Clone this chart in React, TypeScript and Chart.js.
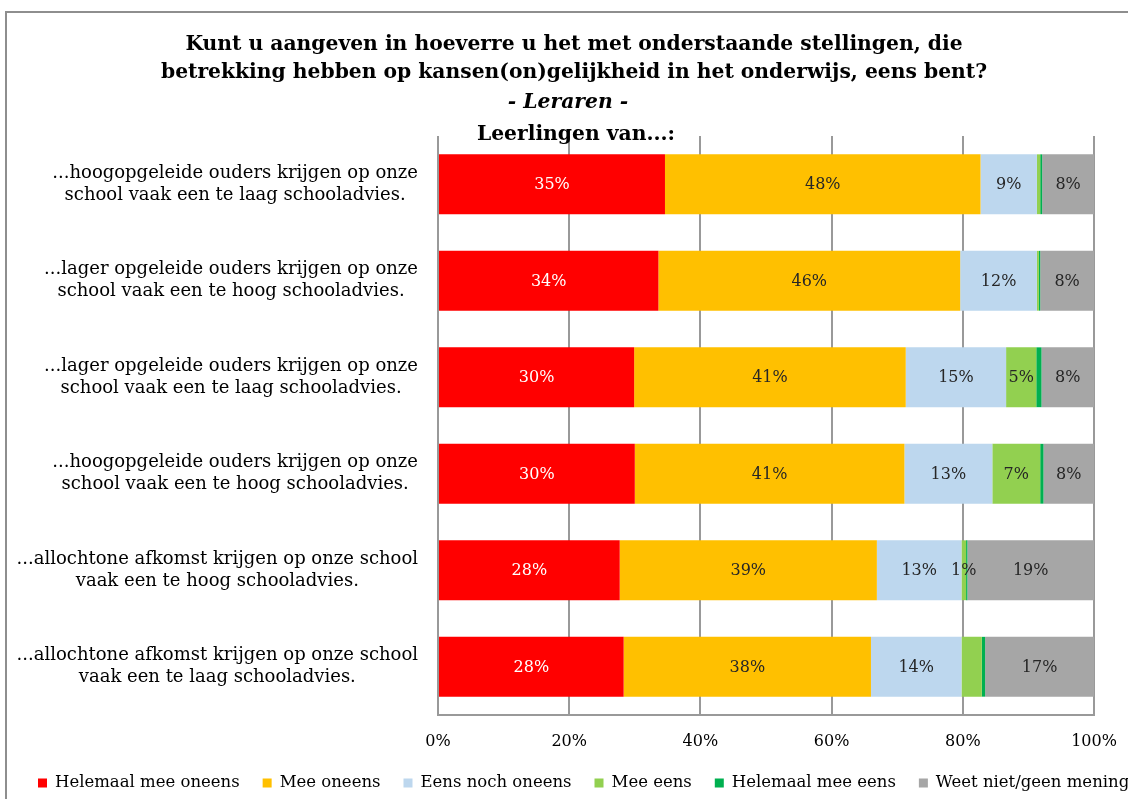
import React, { useEffect, useRef } from "react";
import { Chart, registerables } from "chart.js";
Chart.register(...registerables);

const titleLines = [
  "Kunt u aangeven in hoeverre u het met onderstaande stellingen, die",
  "betrekking hebben op kansen(on)gelijkheid in het onderwijs, eens bent?",
  "- Leraren -",
  "Leerlingen van...:",
];

const categories = [
  ["...hoogopgeleide ouders krijgen op onze", "school vaak een te laag schooladvies."],
  ["...lager opgeleide ouders krijgen op onze", "school vaak een te hoog schooladvies."],
  ["...lager opgeleide ouders krijgen op onze", "school vaak een te laag schooladvies."],
  ["...hoogopgeleide ouders krijgen op onze", "school vaak een te hoog schooladvies."],
  ["...allochtone afkomst krijgen op onze school", "vaak een te hoog schooladvies."],
  ["...allochtone afkomst krijgen op onze school", "vaak een te laag schooladvies."],
];

const seriesNames = [
  "Helemaal mee oneens",
  "Mee oneens",
  "Eens noch oneens",
  "Mee eens",
  "Helemaal mee eens",
  "Weet niet/geen mening",
];

const helemaalMeeOneens = [34.6, 33.6, 29.9, 30.0, 27.7, 28.3];
const meeOneens = [48.1, 46.0, 41.4, 41.1, 39.2, 37.7];
const eensNochOneens = [8.6, 11.7, 15.3, 13.4, 12.9, 13.8];
const meeEens = [0.5, 0.3, 4.6, 7.3, 0.7, 3.1];
const helemaalMeeEens = [0.3, 0.2, 0.8, 0.5, 0.2, 0.5];
const weetNiet = [7.9, 8.2, 8.0, 7.7, 19.3, 16.6];

const allShown = [true, true, true, true, true, true];
const meeEensLabelShown = [false, false, true, true, true, false];
const helemaalMeeEensLabelShown = [false, false, false, false, false, false];

const xTickLabels = ["0%", "20%", "40%", "60%", "80%", "100%"];

const seriesColors = ["#FF0000", "#FFC000", "#BDD7EE", "#92D050", "#00B050", "#A6A6A6"];
const labelColors = ["#FFFFFF", "#262626", "#262626", "#262626", "#262626", "#262626"];

const FONT = "'DejaVu Serif', serif";

const customPlugin = {
  id: "customDraw",
  beforeDraw(chart: any) {
    const ctx = chart.ctx;
    ctx.save();
    ctx.strokeStyle = "#8e8e8e";
    ctx.lineWidth = 2;
    ctx.strokeRect(6, 12, chart.width + 50, chart.height + 50);
    ctx.restore();
  },
  afterDatasetsDraw(chart: any) {
    const ctx = chart.ctx;
    ctx.save();
    ctx.font = `16px ${FONT}`;
    ctx.textAlign = "center";
    ctx.textBaseline = "middle";
    chart.data.datasets.forEach((ds: any, di: number) => {
      const meta = chart.getDatasetMeta(di);
      meta.data.forEach((bar: any, i: number) => {
        if (!ds.labelShown[i]) return;
        const v = ds.data[i];
        const x = (bar.x + bar.base) / 2;
        ctx.fillStyle = ds.labelColor;
        ctx.fillText(Math.round(v) + "%", x, bar.y + 1);
      });
    });
    ctx.restore();
  },
  afterDraw(chart: any) {
    const ctx = chart.ctx;
    ctx.save();
    // title
    ctx.fillStyle = "#000";
    ctx.textAlign = "center";
    ctx.textBaseline = "middle";
    const tys = [45, 73, 103, 135];
    const txs = [574, 574, 568, 576];
    titleLines.forEach((t, i) => {
      ctx.font = (i === 2 ? "italic bold " : "bold ") + `20.3px ${FONT}`;
      ctx.fillText(t, txs[i], tys[i]);
    });
    // category labels
    const yScale = chart.scales.y;
    ctx.font = `18px ${FONT}`;
    ctx.fillStyle = "#000";
    const rightEdge = 418;
    const lh = 22;
    categories.forEach((lines, i) => {
      const y = yScale.getPixelForValue(i);
      const w = Math.max(...lines.map((l) => ctx.measureText(l).width));
      const cx = rightEdge - w / 2;
      lines.forEach((l, j) => {
        ctx.fillText(l, cx, y + (j - (lines.length - 1) / 2) * lh);
      });
    });
    // legend
    ctx.font = `16.5px ${FONT}`;
    ctx.textAlign = "left";
    let x = 38;
    const ly = 783;
    chart.data.datasets.forEach((ds: any) => {
      ctx.fillStyle = ds.backgroundColor;
      ctx.fillRect(x, ly - 4.5, 9, 9);
      ctx.fillStyle = "#000";
      ctx.fillText(ds.label, x + 17, ly);
      x += 17 + ctx.measureText(ds.label).width + 23;
    });
    ctx.restore();
  },
};

export default function App() {
  const ref = useRef<HTMLCanvasElement>(null);
  useEffect(() => {
    if (!ref.current) return;
    const values = [helemaalMeeOneens, meeOneens, eensNochOneens, meeEens, helemaalMeeEens, weetNiet];
    const shown = [allShown, allShown, allShown, meeEensLabelShown, helemaalMeeEensLabelShown, allShown];
    const chart = new Chart(ref.current, {
      type: "bar",
      data: {
        labels: categories.map((c) => c.join(" ")),
        datasets: seriesNames.map((name, i) => ({
          label: name,
          data: values[i],
          backgroundColor: seriesColors[i],
          borderWidth: 0,
          barPercentage: 0.62,
          categoryPercentage: 1,
          labelShown: shown[i],
          labelColor: labelColors[i],
        })) as any,
      },
      options: {
        indexAxis: "y",
        responsive: false,
        maintainAspectRatio: false,
        animation: false,
        layout: { padding: { top: 136, right: 34, bottom: 44, left: 0 } },
        plugins: {
          legend: { display: false },
          tooltip: { enabled: false },
          title: { display: false },
        },
        scales: {
          x: {
            stacked: true,
            min: 0,
            max: 100,
            ticks: {
              stepSize: 20,
              padding: 17,
              color: "#000",
              font: { family: FONT, size: 16 },
              callback: (_v: any, idx: number) => xTickLabels[idx],
            },
            grid: { color: "#999999", lineWidth: 2, drawTicks: false },
            border: { display: true, color: "#999999", width: 2 },
            afterFit: (s: any) => {
              s.height = 40;
              s.paddingRight = 0;
              s.paddingLeft = 0;
            },
          },
          y: {
            stacked: true,
            ticks: { display: false },
            grid: { display: false, drawTicks: false },
            border: { display: false },
            afterFit: (s: any) => {
              s.width = 438;
            },
          },
        },
      },
      plugins: [customPlugin],
    });
    return () => chart.destroy();
  }, []);
  return (
    <div style={{ position: "absolute", left: 0, top: 0, width: 1128, height: 799, overflow: "hidden", background: "#fff" }}>
      <canvas ref={ref} width={1128} height={799} />
    </div>
  );
}
